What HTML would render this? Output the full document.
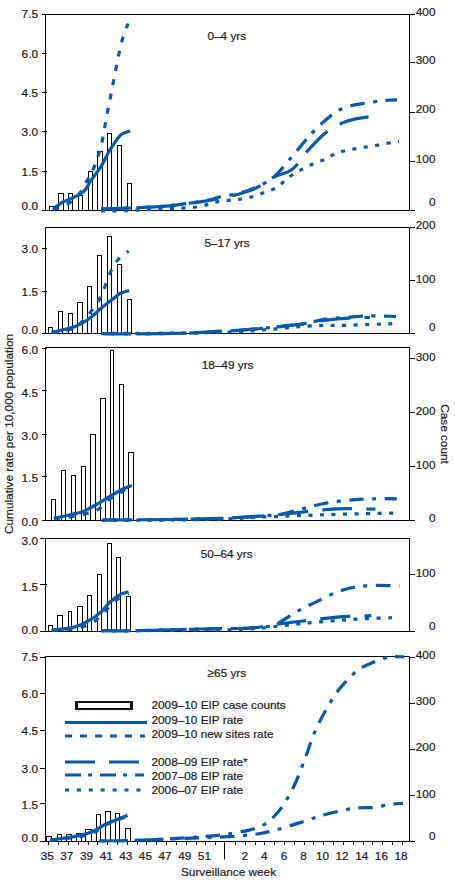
<!DOCTYPE html>
<html><head><meta charset="utf-8"><style>
html,body{margin:0;padding:0;background:#fff;}
svg{display:block;}
text{font-family:"Liberation Sans",sans-serif;font-size:11.8px;fill:#1a1718;stroke:#1a1718;stroke-width:0.2px;}
</style></head><body>
<svg width="455" height="887" viewBox="0 0 455 887">
<rect width="455" height="887" fill="#fff"/>
<path d="M45.5,14.5 H409.5 V210.5 H45.5 Z" fill="none" stroke="#000" stroke-width="1"/>
<line x1="42" y1="14.5" x2="47" y2="14.5" stroke="#000" stroke-width="1"/>
<text x="38" y="18.1" text-anchor="end" >7.5</text>
<line x1="42" y1="53.5" x2="47" y2="53.5" stroke="#000" stroke-width="1"/>
<text x="38" y="57.5" text-anchor="end" >6.0</text>
<line x1="42" y1="92.5" x2="47" y2="92.5" stroke="#000" stroke-width="1"/>
<text x="38" y="97.0" text-anchor="end" >4.5</text>
<line x1="42" y1="131.5" x2="47" y2="131.5" stroke="#000" stroke-width="1"/>
<text x="38" y="136.4" text-anchor="end" >3.0</text>
<line x1="42" y1="171.5" x2="47" y2="171.5" stroke="#000" stroke-width="1"/>
<text x="38" y="176.4" text-anchor="end" >1.5</text>
<line x1="42" y1="210.5" x2="47" y2="210.5" stroke="#000" stroke-width="1"/>
<text x="38" y="209.5" text-anchor="end" >0.0</text>
<line x1="409.5" y1="14.5" x2="415" y2="14.5" stroke="#000" stroke-width="1"/>
<text x="435.5" y="15.7" text-anchor="end" >400</text>
<line x1="409.5" y1="62.5" x2="415" y2="62.5" stroke="#000" stroke-width="1"/>
<text x="435.5" y="64.1" text-anchor="end" >300</text>
<line x1="409.5" y1="112.5" x2="415" y2="112.5" stroke="#000" stroke-width="1"/>
<text x="435.5" y="113.0" text-anchor="end" >200</text>
<line x1="409.5" y1="161.5" x2="415" y2="161.5" stroke="#000" stroke-width="1"/>
<text x="435.5" y="162.8" text-anchor="end" >100</text>
<line x1="409.5" y1="210.5" x2="415" y2="210.5" stroke="#000" stroke-width="1"/>
<text x="435.5" y="206.0" text-anchor="end" >0</text>
<text x="226.8" y="40.2" text-anchor="middle" >0–4 yrs</text>
<rect x="49.5" y="206.5" width="4" height="4" fill="#fff" stroke="#000" stroke-width="1"/>
<rect x="58.5" y="193.5" width="5" height="17" fill="#fff" stroke="#000" stroke-width="1"/>
<rect x="68.5" y="193.5" width="4" height="17" fill="#fff" stroke="#000" stroke-width="1"/>
<rect x="78.5" y="195.5" width="4" height="15" fill="#fff" stroke="#000" stroke-width="1"/>
<rect x="88.5" y="171.5" width="4" height="39" fill="#fff" stroke="#000" stroke-width="1"/>
<rect x="97.5" y="151.5" width="5" height="59" fill="#fff" stroke="#000" stroke-width="1"/>
<rect x="107.5" y="133.5" width="4" height="77" fill="#fff" stroke="#000" stroke-width="1"/>
<rect x="117.5" y="145.5" width="4" height="65" fill="#fff" stroke="#000" stroke-width="1"/>
<rect x="127.5" y="183.5" width="4" height="27" fill="#fff" stroke="#000" stroke-width="1"/>
<path d="M53.0,209.5 C55.5,208.6 63.5,206.3 67.7,204.0 C71.9,201.7 74.9,199.1 78.0,195.5 C81.1,191.9 83.7,186.8 86.2,182.3 C88.8,177.9 91.3,173.2 93.3,168.8 C95.3,164.4 96.7,160.3 98.2,155.7 C99.7,151.1 101.0,146.3 102.1,141.4 C103.2,136.5 103.9,131.4 104.8,126.5 C105.7,121.6 106.6,116.8 107.5,112.0 C108.4,107.2 109.5,102.3 110.4,97.5 C111.3,92.7 112.2,88.0 113.1,83.2 C114.0,78.5 115.0,73.8 115.9,69.0 C116.8,64.2 117.7,59.5 118.7,54.7 C119.8,49.9 120.7,45.2 122.2,40.0 C123.8,34.8 127.0,26.2 128.0,23.5" fill="none" stroke="#0559ad" stroke-width="3.2" stroke-linecap="butt" stroke-linejoin="round" stroke-dasharray="6 8.6"/>
<path d="M52.8,209.2 C53.6,208.6 61.2,203.1 62.7,202.2 C64.2,201.3 68.9,199.6 70.4,198.9 C71.9,198.2 79.0,194.8 80.3,194.0 C81.6,193.2 85.2,190.0 86.0,189.0 C86.8,188.0 88.8,183.9 90.0,182.0 C91.2,180.1 99.3,169.2 101.0,166.6 C102.7,163.9 108.1,152.8 109.8,150.2 C111.5,147.5 119.1,136.4 120.8,134.8 C122.5,133.2 129.3,131.3 130.1,131.0" fill="none" stroke="#0559ad" stroke-width="3.2" stroke-linecap="butt" stroke-linejoin="round"/>
<path d="M101.0,209.0 C105.8,208.8 119.7,208.4 130.0,208.0 C140.3,207.6 153.7,207.0 163.0,206.3 C172.3,205.6 178.3,204.6 186.0,203.6 C193.7,202.6 201.3,201.6 209.0,200.3 C216.7,199.0 224.3,197.8 232.0,195.8 C239.7,193.9 248.1,191.7 255.0,188.6 C261.9,185.5 267.1,180.5 273.3,177.3 C279.5,174.1 286.6,173.6 292.3,169.2 C298.0,164.8 302.1,157.0 307.7,150.8 C313.3,144.7 320.4,137.0 326.2,132.3 C332.0,127.7 337.6,125.1 342.5,122.9 C347.4,120.7 351.3,119.9 355.7,118.9 C360.1,117.9 366.7,117.2 368.9,116.9" fill="none" stroke="#0559ad" stroke-width="3.2" stroke-linecap="butt" stroke-linejoin="round" stroke-dasharray="30 14"/>
<path d="M101.0,209.0 C105.8,208.8 119.7,208.4 130.0,208.0 C140.3,207.6 153.7,207.0 163.0,206.3 C172.3,205.6 178.3,204.6 186.0,203.6 C193.7,202.6 203.5,201.2 209.0,200.1 C214.5,199.0 214.3,198.1 219.0,197.0 C223.7,195.9 230.8,195.4 236.9,193.8 C243.0,192.2 249.2,190.5 255.4,187.7 C261.6,184.9 268.2,181.5 273.8,176.9 C279.4,172.3 284.1,165.9 289.2,160.0 C294.3,154.1 300.1,146.7 304.6,141.5 C309.1,136.3 311.8,133.1 316.2,128.8 C320.6,124.5 326.1,119.2 331.0,115.6 C335.9,112.0 340.0,109.1 345.8,107.0 C351.6,104.9 359.0,104.2 365.6,103.1 C372.2,102.0 380.2,101.0 385.4,100.4 C390.6,99.9 395.1,99.9 397.0,99.8" fill="none" stroke="#0559ad" stroke-width="3.2" stroke-linecap="butt" stroke-linejoin="round" stroke-dasharray="14.5 8.5 4 8.5"/>
<path d="M101.0,211.0 C105.8,210.9 119.7,210.9 130.0,210.5 C140.3,210.1 152.0,209.4 163.0,208.8 C174.0,208.2 186.7,208.2 196.0,207.0 C205.3,205.8 213.3,202.6 219.0,201.5 C224.7,200.4 226.5,200.6 230.4,200.2 C234.3,199.8 238.3,199.6 242.2,199.0 C246.1,198.4 249.8,197.5 253.6,196.4 C257.4,195.3 261.0,193.7 264.7,192.3 C268.4,190.9 272.5,189.9 275.8,188.0 C279.1,186.1 281.6,183.4 284.6,181.0 C287.6,178.6 290.5,175.7 293.8,173.6 C297.1,171.5 300.8,170.1 304.3,168.3 C307.8,166.5 311.3,164.6 314.9,163.0 C318.5,161.4 322.4,160.6 325.9,159.0 C329.4,157.4 332.1,154.7 336.0,153.2 C339.9,151.7 343.1,151.1 349.1,149.9 C355.1,148.7 363.9,147.4 372.2,146.0 C380.5,144.6 394.5,142.1 399.0,141.3" fill="none" stroke="#0559ad" stroke-width="3.2" stroke-linecap="butt" stroke-linejoin="round" stroke-dasharray="4 7.5"/>
<path d="M45.5,227.5 H409.5 V333.5 H45.5 Z" fill="none" stroke="#000" stroke-width="1"/>
<line x1="42" y1="248.5" x2="47" y2="248.5" stroke="#000" stroke-width="1"/>
<text x="38" y="253.2" text-anchor="end" >3.0</text>
<line x1="42" y1="291.5" x2="47" y2="291.5" stroke="#000" stroke-width="1"/>
<text x="38" y="296.0" text-anchor="end" >1.5</text>
<line x1="42" y1="333.5" x2="47" y2="333.5" stroke="#000" stroke-width="1"/>
<text x="38" y="334.2" text-anchor="end" >0.0</text>
<line x1="409.5" y1="227.5" x2="415" y2="227.5" stroke="#000" stroke-width="1"/>
<text x="435.5" y="229.4" text-anchor="end" >200</text>
<line x1="409.5" y1="280.5" x2="415" y2="280.5" stroke="#000" stroke-width="1"/>
<text x="435.5" y="282.6" text-anchor="end" >100</text>
<line x1="409.5" y1="333.5" x2="415" y2="333.5" stroke="#000" stroke-width="1"/>
<text x="435.5" y="331.1" text-anchor="end" >0</text>
<text x="227" y="246.9" text-anchor="middle" >5–17 yrs</text>
<rect x="48.5" y="327.5" width="4" height="6" fill="#fff" stroke="#000" stroke-width="1"/>
<rect x="58.5" y="311.5" width="4" height="22" fill="#fff" stroke="#000" stroke-width="1"/>
<rect x="68.5" y="313.5" width="4" height="20" fill="#fff" stroke="#000" stroke-width="1"/>
<rect x="77.5" y="302.5" width="5" height="31" fill="#fff" stroke="#000" stroke-width="1"/>
<rect x="87.5" y="286.5" width="4" height="47" fill="#fff" stroke="#000" stroke-width="1"/>
<rect x="97.5" y="255.5" width="4" height="78" fill="#fff" stroke="#000" stroke-width="1"/>
<rect x="107.5" y="236.5" width="4" height="97" fill="#fff" stroke="#000" stroke-width="1"/>
<rect x="117.5" y="264.5" width="4" height="69" fill="#fff" stroke="#000" stroke-width="1"/>
<rect x="127.5" y="299.5" width="4" height="34" fill="#fff" stroke="#000" stroke-width="1"/>
<path d="M51.7,332.4 C54.8,331.9 65.3,331.3 70.4,329.5 C75.5,327.7 79.0,324.5 82.5,321.4 C86.0,318.3 88.4,315.0 91.3,311.1 C94.2,307.2 97.6,302.6 100.0,298.3 C102.4,294.0 103.7,289.7 105.5,285.1 C107.3,280.5 108.8,275.3 111.0,270.9 C113.2,266.5 115.8,262.1 118.7,258.8 C121.6,255.5 126.9,252.4 128.6,251.1" fill="none" stroke="#0559ad" stroke-width="3.2" stroke-linecap="butt" stroke-linejoin="round" stroke-dasharray="6 8.6"/>
<path d="M51.7,332.4 C53.3,332.0 67.9,328.7 70.4,328.0 C72.9,327.3 79.7,324.5 81.4,323.6 C83.1,322.7 89.7,318.3 91.3,317.0 C92.9,315.7 99.5,309.6 101.1,308.2 C102.7,306.8 109.4,301.7 111.0,300.5 C112.6,299.3 118.3,294.3 119.8,293.5 C121.3,292.7 128.5,290.8 129.3,290.6" fill="none" stroke="#0559ad" stroke-width="3.2" stroke-linecap="butt" stroke-linejoin="round"/>
<path d="M101.0,333.5 C107.0,333.6 122.7,333.9 137.0,333.8 C151.3,333.8 174.9,333.5 187.0,333.2 C199.1,332.9 200.5,332.3 209.3,331.8 C218.1,331.3 230.5,330.9 240.0,330.2 C249.5,329.5 260.0,328.5 266.4,327.9 C272.8,327.3 272.0,327.4 278.1,326.7 C284.2,326.0 294.9,324.9 302.9,323.8 C310.9,322.7 318.3,321.1 326.0,320.2 C333.7,319.3 341.7,318.6 349.0,318.2 C356.3,317.8 366.5,317.6 370.0,317.5" fill="none" stroke="#0559ad" stroke-width="3.2" stroke-linecap="butt" stroke-linejoin="round" stroke-dasharray="30 14"/>
<path d="M101.0,333.5 C107.0,333.6 122.7,333.9 137.0,333.8 C151.3,333.8 174.9,333.5 187.0,333.2 C199.1,332.9 200.5,332.3 209.3,331.8 C218.1,331.3 230.5,330.9 240.0,330.2 C249.5,329.5 260.0,328.5 266.4,327.9 C272.8,327.3 272.0,327.4 278.1,326.7 C284.2,326.0 294.9,325.1 302.9,323.8 C310.9,322.6 318.3,320.3 326.0,319.2 C333.7,318.1 341.9,317.8 349.0,317.2 C356.1,316.6 361.0,316.0 368.8,315.9 C376.6,315.8 391.5,316.4 396.0,316.5" fill="none" stroke="#0559ad" stroke-width="3.2" stroke-linecap="butt" stroke-linejoin="round" stroke-dasharray="14.5 8.5 4 8.5"/>
<path d="M101.0,333.5 C115.3,333.4 163.8,333.3 187.0,333.0 C210.2,332.7 224.8,332.2 240.0,331.5 C255.2,330.8 266.0,329.6 278.0,328.7 C290.0,327.8 300.0,326.4 312.0,325.8 C324.0,325.2 336.0,325.6 350.0,325.2 C364.0,324.8 388.3,323.8 396.0,323.5" fill="none" stroke="#0559ad" stroke-width="3.2" stroke-linecap="butt" stroke-linejoin="round" stroke-dasharray="4 7.5"/>
<path d="M45.5,347.5 H409.5 V520.5 H45.5 Z" fill="none" stroke="#000" stroke-width="1"/>
<line x1="42" y1="348.5" x2="47" y2="348.5" stroke="#000" stroke-width="1"/>
<text x="38" y="354.0" text-anchor="end" >6.0</text>
<line x1="42" y1="390.5" x2="47" y2="390.5" stroke="#000" stroke-width="1"/>
<text x="38" y="396.5" text-anchor="end" >4.5</text>
<line x1="42" y1="434.5" x2="47" y2="434.5" stroke="#000" stroke-width="1"/>
<text x="38" y="439.5" text-anchor="end" >3.0</text>
<line x1="42" y1="476.5" x2="47" y2="476.5" stroke="#000" stroke-width="1"/>
<text x="38" y="482.4" text-anchor="end" >1.5</text>
<line x1="42" y1="520.5" x2="47" y2="520.5" stroke="#000" stroke-width="1"/>
<text x="38" y="526.3" text-anchor="end" >0.0</text>
<line x1="409.5" y1="358.5" x2="415" y2="358.5" stroke="#000" stroke-width="1"/>
<text x="435.5" y="361.2" text-anchor="end" >300</text>
<line x1="409.5" y1="412.5" x2="415" y2="412.5" stroke="#000" stroke-width="1"/>
<text x="435.5" y="415.2" text-anchor="end" >200</text>
<line x1="409.5" y1="466.5" x2="415" y2="466.5" stroke="#000" stroke-width="1"/>
<text x="435.5" y="468.6" text-anchor="end" >100</text>
<line x1="409.5" y1="520.5" x2="415" y2="520.5" stroke="#000" stroke-width="1"/>
<text x="435.5" y="522.4" text-anchor="end" >0</text>
<text x="227.6" y="369.3" text-anchor="middle" >18–49 yrs</text>
<rect x="51.5" y="499.5" width="4" height="21" fill="#fff" stroke="#000" stroke-width="1"/>
<rect x="61.5" y="470.5" width="4" height="50" fill="#fff" stroke="#000" stroke-width="1"/>
<rect x="71.5" y="475.5" width="4" height="45" fill="#fff" stroke="#000" stroke-width="1"/>
<rect x="81.5" y="466.5" width="4" height="54" fill="#fff" stroke="#000" stroke-width="1"/>
<rect x="90.5" y="434.5" width="5" height="86" fill="#fff" stroke="#000" stroke-width="1"/>
<rect x="100.5" y="398.5" width="5" height="122" fill="#fff" stroke="#000" stroke-width="1"/>
<rect x="110.5" y="350.5" width="3" height="170" fill="#fff" stroke="#000" stroke-width="1"/>
<rect x="119.5" y="384.5" width="4" height="136" fill="#fff" stroke="#000" stroke-width="1"/>
<rect x="128.5" y="452.5" width="5" height="68" fill="#fff" stroke="#000" stroke-width="1"/>
<path d="M53.9,519.0 C56.8,518.6 65.7,517.5 71.0,516.7 C76.3,515.9 81.0,515.2 85.5,514.0 C90.0,512.8 94.0,511.9 98.0,509.5 C102.0,507.1 105.5,502.3 109.5,499.3 C113.5,496.3 118.3,494.2 122.0,491.6 C125.7,489.1 129.9,485.3 131.5,484.0" fill="none" stroke="#0559ad" stroke-width="3.2" stroke-linecap="butt" stroke-linejoin="round" stroke-dasharray="6 8.6"/>
<path d="M53.9,518.3 C55.3,518.0 67.9,515.3 70.4,514.7 C72.9,514.1 81.4,512.3 83.6,511.4 C85.8,510.5 94.5,505.6 96.7,504.4 C98.9,503.2 107.8,497.7 109.9,496.5 C112.0,495.3 120.2,490.4 122.0,489.5 C123.8,488.6 131.1,485.8 131.9,485.5" fill="none" stroke="#0559ad" stroke-width="3.2" stroke-linecap="butt" stroke-linejoin="round"/>
<path d="M102.5,520.0 C113.8,519.9 150.0,519.8 170.0,519.5 C190.0,519.2 206.4,518.9 222.5,518.3 C238.6,517.7 256.8,516.3 266.4,515.7 C275.9,515.1 273.7,515.1 279.8,514.5 C285.9,513.9 295.2,512.8 302.9,512.0 C310.6,511.2 318.9,510.2 326.0,509.7 C333.1,509.1 337.5,508.8 345.7,508.7 C353.9,508.6 370.4,509.1 375.4,509.2" fill="none" stroke="#0559ad" stroke-width="3.2" stroke-linecap="butt" stroke-linejoin="round" stroke-dasharray="30 14"/>
<path d="M102.5,520.0 C113.8,519.9 150.0,519.8 170.0,519.5 C190.0,519.2 206.4,518.9 222.5,518.3 C238.6,517.7 256.8,516.3 266.4,515.7 C275.9,515.1 273.7,515.7 279.8,514.5 C285.9,513.3 295.2,510.6 302.9,508.7 C310.6,506.8 317.8,504.6 326.0,503.1 C334.2,501.6 344.6,500.5 352.3,499.8 C360.0,499.1 364.6,499.0 372.0,498.8 C379.4,498.6 392.7,498.8 396.8,498.8" fill="none" stroke="#0559ad" stroke-width="3.2" stroke-linecap="butt" stroke-linejoin="round" stroke-dasharray="14.5 8.5 4 8.5"/>
<path d="M101.6,520.5 C113.0,520.4 149.4,520.2 170.0,520.0 C190.6,519.8 209.4,519.5 225.0,519.0 C240.6,518.5 246.5,517.7 263.3,517.0 C280.1,516.3 303.9,515.4 326.0,514.7 C348.1,514.0 384.3,513.3 396.0,513.0" fill="none" stroke="#0559ad" stroke-width="3.2" stroke-linecap="butt" stroke-linejoin="round" stroke-dasharray="4 7.5"/>
<path d="M45.5,538.5 H409.5 V631.5 H45.5 Z" fill="none" stroke="#000" stroke-width="1"/>
<line x1="40" y1="538.5" x2="47" y2="538.5" stroke="#000" stroke-width="1"/>
<text x="38" y="545.2" text-anchor="end" >3.0</text>
<line x1="40" y1="584.5" x2="47" y2="584.5" stroke="#000" stroke-width="1"/>
<text x="38" y="591.3" text-anchor="end" >1.5</text>
<line x1="40" y1="631.5" x2="47" y2="631.5" stroke="#000" stroke-width="1"/>
<text x="38" y="633.5" text-anchor="end" >0.0</text>
<line x1="409.5" y1="574.5" x2="415" y2="574.5" stroke="#000" stroke-width="1"/>
<text x="435.5" y="577.4" text-anchor="end" >100</text>
<line x1="409.5" y1="631.5" x2="415" y2="631.5" stroke="#000" stroke-width="1"/>
<text x="435.5" y="629.5" text-anchor="end" >0</text>
<text x="226.7" y="558.2" text-anchor="middle" >50–64 yrs</text>
<rect x="48.5" y="625.5" width="4" height="6" fill="#fff" stroke="#000" stroke-width="1"/>
<rect x="57.5" y="615.5" width="5" height="16" fill="#fff" stroke="#000" stroke-width="1"/>
<rect x="68.5" y="611.5" width="3" height="20" fill="#fff" stroke="#000" stroke-width="1"/>
<rect x="77.5" y="606.5" width="5" height="25" fill="#fff" stroke="#000" stroke-width="1"/>
<rect x="87.5" y="595.5" width="4" height="36" fill="#fff" stroke="#000" stroke-width="1"/>
<rect x="97.5" y="574.5" width="4" height="57" fill="#fff" stroke="#000" stroke-width="1"/>
<rect x="107.5" y="543.5" width="4" height="88" fill="#fff" stroke="#000" stroke-width="1"/>
<rect x="116.5" y="557.5" width="4" height="74" fill="#fff" stroke="#000" stroke-width="1"/>
<rect x="126.5" y="596.5" width="4" height="35" fill="#fff" stroke="#000" stroke-width="1"/>
<path d="M51.7,630.5 C54.5,630.3 63.2,630.0 68.2,629.5 C73.2,629.0 77.0,628.6 81.4,627.3 C85.8,625.9 90.5,624.1 94.5,621.4 C98.5,618.6 102.0,614.3 105.5,610.8 C109.0,607.3 111.6,603.3 115.4,600.5 C119.2,597.7 126.4,595.0 128.6,593.9" fill="none" stroke="#0559ad" stroke-width="3.2" stroke-linecap="butt" stroke-linejoin="round" stroke-dasharray="6 8.6"/>
<path d="M51.7,630.0 C53.1,629.9 65.9,628.8 68.2,628.4 C70.5,628.0 77.3,626.3 79.2,625.5 C81.1,624.7 89.5,620.3 91.3,619.2 C93.1,618.1 99.5,613.3 101.1,611.9 C102.7,610.5 108.4,603.4 110.0,602.0 C111.6,600.6 118.2,595.7 119.8,594.8 C121.3,593.9 127.9,592.0 128.6,591.7" fill="none" stroke="#0559ad" stroke-width="3.2" stroke-linecap="butt" stroke-linejoin="round"/>
<path d="M101.0,630.5 C106.7,630.5 118.5,631.0 135.0,630.7 C151.5,630.5 180.8,629.5 200.0,629.0 C219.2,628.5 237.6,628.8 250.0,628.0 C262.4,627.2 265.8,625.7 274.6,624.5 C283.4,623.3 291.0,622.4 302.7,621.0 C314.4,619.6 333.6,617.3 345.0,616.4 C356.4,615.5 366.9,615.8 371.3,615.7" fill="none" stroke="#0559ad" stroke-width="3.2" stroke-linecap="butt" stroke-linejoin="round" stroke-dasharray="30 14"/>
<path d="M101.0,630.5 C106.7,630.5 118.5,631.0 135.0,630.7 C151.5,630.5 180.8,629.5 200.0,629.0 C219.2,628.5 237.6,628.8 250.0,628.0 C262.4,627.2 267.0,627.1 274.6,624.5 C282.2,621.9 288.7,616.0 295.7,612.2 C302.7,608.4 309.2,605.2 316.8,601.6 C324.4,598.0 333.2,593.0 341.4,590.4 C349.6,587.8 356.3,586.6 366.0,585.8 C375.7,585.0 393.8,585.8 399.4,585.8" fill="none" stroke="#0559ad" stroke-width="3.2" stroke-linecap="butt" stroke-linejoin="round" stroke-dasharray="14.5 8.5 4 8.5"/>
<path d="M101.0,631.0 C117.5,630.8 175.2,630.3 200.0,630.0 C224.8,629.7 232.9,630.1 250.0,629.0 C267.1,627.9 285.1,625.0 302.7,623.4 C320.3,621.8 339.4,620.2 355.5,619.2 C371.6,618.2 391.8,617.8 399.0,617.5" fill="none" stroke="#0559ad" stroke-width="3.2" stroke-linecap="butt" stroke-linejoin="round" stroke-dasharray="4 7.5"/>
<path d="M45.5,656.5 H409.5 V841.5 H45.5 Z" fill="none" stroke="#000" stroke-width="1"/>
<line x1="40" y1="657.5" x2="46" y2="657.5" stroke="#000" stroke-width="1"/>
<text x="38" y="661.2" text-anchor="end" >7.5</text>
<line x1="40" y1="693.5" x2="46" y2="693.5" stroke="#000" stroke-width="1"/>
<text x="38" y="698.1" text-anchor="end" >6.0</text>
<line x1="40" y1="730.5" x2="46" y2="730.5" stroke="#000" stroke-width="1"/>
<text x="38" y="735.2" text-anchor="end" >4.5</text>
<line x1="40" y1="768.5" x2="46" y2="768.5" stroke="#000" stroke-width="1"/>
<text x="38" y="772.5" text-anchor="end" >3.0</text>
<line x1="40" y1="803.5" x2="46" y2="803.5" stroke="#000" stroke-width="1"/>
<text x="38" y="809.4" text-anchor="end" >1.5</text>
<line x1="40" y1="841.5" x2="46" y2="841.5" stroke="#000" stroke-width="1"/>
<text x="38" y="842.2" text-anchor="end" >0.0</text>
<line x1="409.5" y1="657.5" x2="415" y2="657.5" stroke="#000" stroke-width="1"/>
<text x="435.5" y="659.4" text-anchor="end" >400</text>
<line x1="409.5" y1="703.5" x2="415" y2="703.5" stroke="#000" stroke-width="1"/>
<text x="435.5" y="704.8" text-anchor="end" >300</text>
<line x1="409.5" y1="749.5" x2="415" y2="749.5" stroke="#000" stroke-width="1"/>
<text x="435.5" y="751.3" text-anchor="end" >200</text>
<line x1="409.5" y1="795.5" x2="415" y2="795.5" stroke="#000" stroke-width="1"/>
<text x="435.5" y="797.5" text-anchor="end" >100</text>
<line x1="409.5" y1="841.5" x2="415" y2="841.5" stroke="#000" stroke-width="1"/>
<text x="435.5" y="840.2" text-anchor="end" >0</text>
<text x="226.9" y="676.5" text-anchor="middle" >≥65 yrs</text>
<rect x="46.5" y="836.5" width="5" height="5" fill="#fff" stroke="#000" stroke-width="1"/>
<rect x="57.5" y="834.5" width="4" height="7" fill="#fff" stroke="#000" stroke-width="1"/>
<rect x="66.5" y="834.5" width="5" height="7" fill="#fff" stroke="#000" stroke-width="1"/>
<rect x="76.5" y="833.5" width="5" height="8" fill="#fff" stroke="#000" stroke-width="1"/>
<rect x="85.5" y="829.5" width="6" height="12" fill="#fff" stroke="#000" stroke-width="1"/>
<rect x="96.5" y="814.5" width="4" height="27" fill="#fff" stroke="#000" stroke-width="1"/>
<rect x="105.5" y="811.5" width="5" height="30" fill="#fff" stroke="#000" stroke-width="1"/>
<rect x="115.5" y="813.5" width="4" height="28" fill="#fff" stroke="#000" stroke-width="1"/>
<rect x="125.5" y="828.5" width="5" height="13" fill="#fff" stroke="#000" stroke-width="1"/>
<path d="M50.2,840.5 C52.8,840.2 60.8,839.2 66.0,838.5 C71.2,837.8 76.7,837.2 81.4,836.2 C86.2,835.2 90.5,834.0 94.5,832.2 C98.5,830.4 101.8,827.2 105.5,825.2 C109.2,823.2 112.8,822.0 116.5,820.5 C120.2,819.0 125.7,816.8 127.5,816.0" fill="none" stroke="#0559ad" stroke-width="3.2" stroke-linecap="butt" stroke-linejoin="round" stroke-dasharray="6 8.6"/>
<path d="M50.2,840.1 C51.5,839.9 63.4,838.3 66.0,837.9 C68.6,837.5 79.0,835.7 81.4,835.1 C83.8,834.5 92.5,831.6 94.5,830.7 C96.5,829.8 103.7,825.0 105.5,824.1 C107.3,823.2 114.7,820.4 116.5,819.7 C118.3,819.0 126.6,815.7 127.5,815.3" fill="none" stroke="#0559ad" stroke-width="3.2" stroke-linecap="butt" stroke-linejoin="round"/>
<path d="M99.0,841.0 C104.7,840.9 121.2,840.7 133.0,840.3 C144.8,839.9 157.2,839.5 170.0,838.8 C182.8,838.1 199.9,836.9 209.6,836.1 C219.3,835.3 221.4,835.0 228.0,834.0 C234.6,833.0 243.2,831.6 249.2,830.1 C255.1,828.6 259.5,827.1 263.7,824.8 C267.9,822.5 270.6,820.1 274.1,816.5 C277.6,812.9 281.1,808.5 284.6,803.0 C288.1,797.5 291.7,791.2 295.2,783.5 C298.7,775.8 302.5,765.0 305.7,756.5 C308.9,748.0 311.3,740.1 314.5,732.6 C317.7,725.1 321.2,718.4 325.0,711.5 C328.8,704.6 333.0,697.5 337.4,691.5 C341.8,685.5 347.5,679.8 351.5,675.8 C355.5,671.8 357.9,670.0 361.4,667.8 C364.8,665.6 368.6,664.2 372.2,662.7 C375.8,661.2 379.8,659.5 383.1,658.5 C386.4,657.5 388.5,657.1 392.0,656.8 C395.5,656.5 402.2,656.8 404.2,656.8" fill="none" stroke="#0559ad" stroke-width="3.2" stroke-linecap="butt" stroke-linejoin="round" stroke-dasharray="14.5 8.5 4 8.5"/>
<path d="M99.0,841.0 C104.7,840.9 119.0,840.9 133.0,840.5 C146.9,840.1 166.9,839.1 182.7,838.5 C198.5,837.9 215.6,837.5 228.0,836.7 C240.4,836.0 249.1,835.1 257.0,834.0 C264.9,832.9 268.5,832.0 275.5,830.1 C282.5,828.2 291.4,825.3 299.2,822.9 C306.9,820.5 314.4,817.7 322.0,815.5 C329.6,813.3 338.6,811.2 344.9,809.9 C351.2,808.6 355.1,808.2 360.0,807.8 C364.9,807.4 369.1,808.0 374.0,807.5 C378.9,807.0 384.7,805.2 389.5,804.5 C394.3,803.8 400.8,803.5 403.0,803.3" fill="none" stroke="#0559ad" stroke-width="3.2" stroke-linecap="butt" stroke-linejoin="round" stroke-dasharray="14.5 8.5 4 8.5" stroke-dashoffset="21"/>
<line x1="48.5" y1="841.5" x2="48.5" y2="845" stroke="#000" stroke-width="1"/>
<line x1="58.5" y1="841.5" x2="58.5" y2="845" stroke="#000" stroke-width="1"/>
<line x1="68.5" y1="841.5" x2="68.5" y2="845" stroke="#000" stroke-width="1"/>
<line x1="78.5" y1="841.5" x2="78.5" y2="845" stroke="#000" stroke-width="1"/>
<line x1="88.5" y1="841.5" x2="88.5" y2="845" stroke="#000" stroke-width="1"/>
<line x1="97.5" y1="841.5" x2="97.5" y2="845" stroke="#000" stroke-width="1"/>
<line x1="107.5" y1="841.5" x2="107.5" y2="845" stroke="#000" stroke-width="1"/>
<line x1="117.5" y1="841.5" x2="117.5" y2="845" stroke="#000" stroke-width="1"/>
<line x1="127.5" y1="841.5" x2="127.5" y2="845" stroke="#000" stroke-width="1"/>
<line x1="137.5" y1="841.5" x2="137.5" y2="845" stroke="#000" stroke-width="1"/>
<line x1="146.5" y1="841.5" x2="146.5" y2="845" stroke="#000" stroke-width="1"/>
<line x1="156.5" y1="841.5" x2="156.5" y2="845" stroke="#000" stroke-width="1"/>
<line x1="166.5" y1="841.5" x2="166.5" y2="845" stroke="#000" stroke-width="1"/>
<line x1="176.5" y1="841.5" x2="176.5" y2="845" stroke="#000" stroke-width="1"/>
<line x1="186.5" y1="841.5" x2="186.5" y2="845" stroke="#000" stroke-width="1"/>
<line x1="196.5" y1="841.5" x2="196.5" y2="845" stroke="#000" stroke-width="1"/>
<line x1="205.5" y1="841.5" x2="205.5" y2="845" stroke="#000" stroke-width="1"/>
<line x1="215.5" y1="841.5" x2="215.5" y2="845" stroke="#000" stroke-width="1"/>
<line x1="235.5" y1="841.5" x2="235.5" y2="845" stroke="#000" stroke-width="1"/>
<line x1="245.5" y1="841.5" x2="245.5" y2="845" stroke="#000" stroke-width="1"/>
<line x1="255.5" y1="841.5" x2="255.5" y2="845" stroke="#000" stroke-width="1"/>
<line x1="264.5" y1="841.5" x2="264.5" y2="845" stroke="#000" stroke-width="1"/>
<line x1="274.5" y1="841.5" x2="274.5" y2="845" stroke="#000" stroke-width="1"/>
<line x1="284.5" y1="841.5" x2="284.5" y2="845" stroke="#000" stroke-width="1"/>
<line x1="294.5" y1="841.5" x2="294.5" y2="845" stroke="#000" stroke-width="1"/>
<line x1="304.5" y1="841.5" x2="304.5" y2="845" stroke="#000" stroke-width="1"/>
<line x1="313.5" y1="841.5" x2="313.5" y2="845" stroke="#000" stroke-width="1"/>
<line x1="323.5" y1="841.5" x2="323.5" y2="845" stroke="#000" stroke-width="1"/>
<line x1="333.5" y1="841.5" x2="333.5" y2="845" stroke="#000" stroke-width="1"/>
<line x1="343.5" y1="841.5" x2="343.5" y2="845" stroke="#000" stroke-width="1"/>
<line x1="353.5" y1="841.5" x2="353.5" y2="845" stroke="#000" stroke-width="1"/>
<line x1="363.5" y1="841.5" x2="363.5" y2="845" stroke="#000" stroke-width="1"/>
<line x1="372.5" y1="841.5" x2="372.5" y2="845" stroke="#000" stroke-width="1"/>
<line x1="382.5" y1="841.5" x2="382.5" y2="845" stroke="#000" stroke-width="1"/>
<line x1="392.5" y1="841.5" x2="392.5" y2="845" stroke="#000" stroke-width="1"/>
<line x1="402.5" y1="841.5" x2="402.5" y2="845" stroke="#000" stroke-width="1"/>
<line x1="224.5" y1="841.5" x2="224.5" y2="859.5" stroke="#000" stroke-width="1"/>
<text x="47.2" y="860" text-anchor="middle" >35</text>
<text x="66.8" y="860" text-anchor="middle" >37</text>
<text x="86.5" y="860" text-anchor="middle" >39</text>
<text x="106.2" y="860" text-anchor="middle" >41</text>
<text x="125.8" y="860" text-anchor="middle" >43</text>
<text x="145.4" y="860" text-anchor="middle" >45</text>
<text x="165.1" y="860" text-anchor="middle" >47</text>
<text x="184.8" y="860" text-anchor="middle" >49</text>
<text x="204.4" y="860" text-anchor="middle" >51</text>
<text x="244.7" y="860" text-anchor="middle" >2</text>
<text x="264.3" y="860" text-anchor="middle" >4</text>
<text x="284.0" y="860" text-anchor="middle" >6</text>
<text x="303.6" y="860" text-anchor="middle" >8</text>
<text x="322.5" y="860" text-anchor="middle" >10</text>
<text x="342.1" y="860" text-anchor="middle" >12</text>
<text x="361.8" y="860" text-anchor="middle" >14</text>
<text x="381.4" y="860" text-anchor="middle" >16</text>
<text x="401.1" y="860" text-anchor="middle" >18</text>
<text x="228.5" y="876.3" text-anchor="middle" >Surveillance week</text>
<rect x="75" y="701" width="58" height="9" fill="#111"/><rect x="78" y="703" width="52" height="5" fill="#fff"/>
<line x1="65" y1="722.5" x2="147" y2="722.5" stroke="#0559ad" stroke-width="3"/>
<line x1="65" y1="736" x2="145" y2="736" stroke="#0559ad" stroke-width="3" stroke-dasharray="7 8"/>
<line x1="65" y1="762" x2="140" y2="762" stroke="#0559ad" stroke-width="3" stroke-dasharray="30 14"/>
<line x1="65" y1="775" x2="144" y2="775" stroke="#0559ad" stroke-width="3" stroke-dasharray="16 7 4 8"/>
<line x1="65" y1="790" x2="141" y2="790" stroke="#0559ad" stroke-width="3" stroke-dasharray="4 7.9"/>
<text x="151.5" y="709.1" text-anchor="start" >2009–10 EIP case counts</text>
<text x="151.5" y="723.7" text-anchor="start" >2009–10 EIP rate</text>
<text x="151.5" y="737.5" text-anchor="start" >2009–10 new sites rate</text>
<text x="151.5" y="766" text-anchor="start" >2008–09 EIP rate*</text>
<text x="151.5" y="779.8" text-anchor="start" >2007–08 EIP rate</text>
<text x="151.5" y="794" text-anchor="start" >2006–07 EIP rate</text>
<text transform="translate(13.2,434) rotate(-90)" text-anchor="middle">Cumulative rate per 10,000 population</text>
<text transform="translate(440.5,434) rotate(90)" text-anchor="middle">Case count</text>
</svg>
</body></html>
